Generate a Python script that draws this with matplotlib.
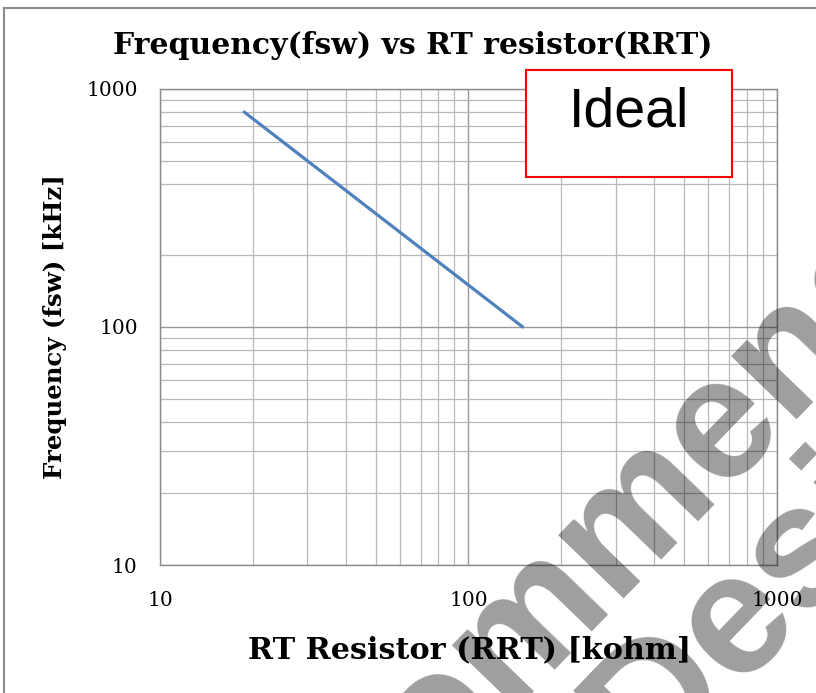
import matplotlib
matplotlib.use("Agg")
import matplotlib.pyplot as plt
from matplotlib.patches import Rectangle
from matplotlib.lines import Line2D

# values
rrt_kohm = [18.75, 20, 30, 50, 75, 100, 150]
fsw_khz = [800, 750, 500, 300, 200, 150, 100]

x_major = [10, 100, 1000]
y_major = [10, 100, 1000]
x_minor = [20, 30, 40, 50, 60, 70, 80, 90, 200, 300, 400, 500, 600, 700, 800, 900]
y_minor = [20, 30, 40, 50, 60, 70, 80, 90, 200, 400, 500, 600, 700, 800, 900]

serif = "DejaVu Serif"

fig = plt.figure(figsize=(8.16, 6.93), dpi=100)
ax = fig.add_axes([0.196, 0.1847, 0.756, 0.687])

ax.plot(rrt_kohm, fsw_khz, color="#4F81BD", lw=2.3, solid_capstyle="round", zorder=3)

ax.set_xscale("log")
ax.set_yscale("log")
ax.set_xlim(10, 1000)
ax.set_ylim(10, 1000)
ax.set_xticks(x_major)
ax.set_yticks(y_major)
ax.set_xticks(x_minor, minor=True)
ax.set_yticks(y_minor, minor=True)
ax.set_xticklabels([str(v) for v in x_major], fontfamily=serif, fontsize=14.5)
ax.set_yticklabels([str(v) for v in y_major], fontfamily=serif, fontsize=14.5)
ax.tick_params(axis="both", which="both", length=0)
ax.tick_params(axis="y", pad=16)
ax.tick_params(axis="x", pad=19)
ax.xaxis.set_minor_formatter(plt.NullFormatter())
ax.yaxis.set_minor_formatter(plt.NullFormatter())

ax.grid(True, which="major", color="#999999", lw=1.0)
ax.grid(True, which="minor", color="#b8b8b8", lw=0.9)
for s in ax.spines.values():
    s.set_color("#8c8c8c")
    s.set_linewidth(1.0)

fig.text(0.506, 0.935, "Frequency(fsw) vs RT resistor(RRT)", ha="center", va="center",
         fontfamily=serif, fontweight="bold", fontsize=21.5)
fig.text(0.575, 0.062, "RT Resistor (RRT) [kohm]", ha="center", va="center",
         fontfamily=serif, fontweight="bold", fontsize=21.8)
fig.text(0.068, 0.528, "Frequency (fsw) [kHz]", ha="center", va="center", rotation=90,
         fontfamily=serif, fontweight="bold", fontsize=17.6)

# "Ideal" callout box
fig.patches.append(Rectangle((0.6446, 0.7446), 0.2525, 0.1544, transform=fig.transFigure,
                             facecolor="white", edgecolor="#ff0000", lw=1.5, zorder=5))
fig.text(0.771, 0.838, "Ideal", ha="center", va="center", fontfamily="Liberation Sans",
         fontsize=40, zorder=6)

# chart area frame
fig.lines.append(Line2D([0.0045, 0.0045], [0, 0.989], transform=fig.transFigure,
                        color="#8c8c8c", lw=1.5))
fig.lines.append(Line2D([0.0045, 1], [0.989, 0.989], transform=fig.transFigure,
                        color="#8c8c8c", lw=1.5))

# watermark
wm = dict(fontfamily="Liberation Sans", fontweight="bold", fontsize=124, color="black",
          alpha=0.38, rotation=46, rotation_mode="anchor", ha="center", va="baseline", zorder=10)
fig.text(0.650, -0.0035, "Not Recommended", **wm)
fig.text(0.795, -0.133, "for New Designs", **wm)

fig.savefig("out.png", dpi=100)
